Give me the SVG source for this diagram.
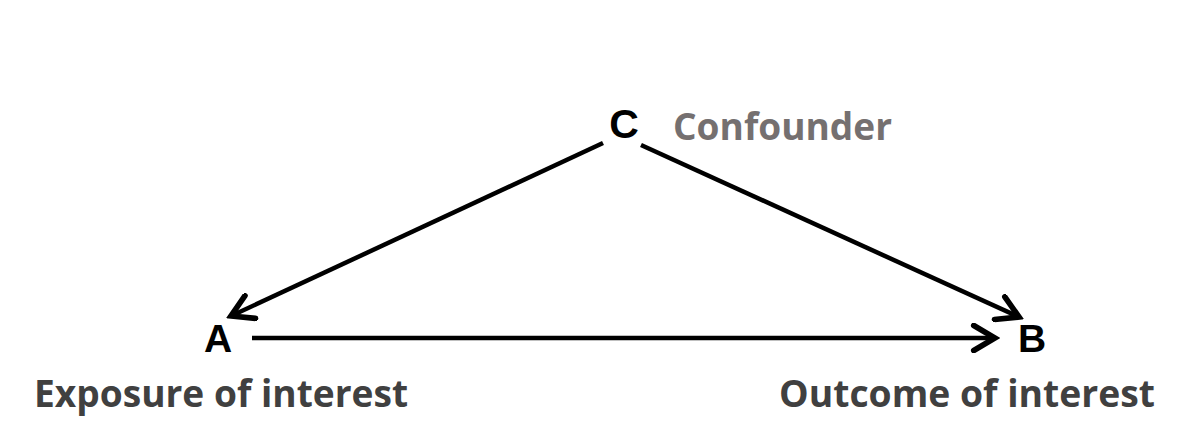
<svg xmlns="http://www.w3.org/2000/svg" width="1180" height="442" viewBox="0 0 1180 442">
<style>
.letter{font-family:"Liberation Sans",Arial,sans-serif;font-weight:bold;font-size:39px;fill:#000;text-anchor:middle}
.lab{font-family:"Open Sans","Noto Sans",sans-serif;font-weight:bold;font-size:37px}
.edge{stroke:#000;stroke-width:4.5;fill:none}
</style>
<defs>
<marker id="arr" markerUnits="userSpaceOnUse" markerWidth="30" markerHeight="30" viewBox="-20 -12 24 24" refX="0" refY="0" orient="auto">
<path d="M-17,-10 L0,0 L-17,10" fill="none" stroke="#000" stroke-width="4.5" stroke-linecap="round" stroke-linejoin="miter"/>
</marker>
</defs>
<rect width="1180" height="442" fill="#fff"/>
<g id="connectors">
<line class="edge" x1="603" y1="143" x2="231" y2="316" marker-end="url(#arr)"/>
<line class="edge" x1="641" y1="145" x2="1019" y2="317" marker-end="url(#arr)"/>
<line class="edge" x1="252" y1="338" x2="995" y2="338" marker-end="url(#arr)"/>
</g>
<g id="nodeC">
<text class="letter" x="624" y="138" style="font-size:41px">C</text>
<text class="lab" x="673" y="140" fill="#757070" textLength="219" lengthAdjust="spacingAndGlyphs">Confounder</text>
</g>
<g id="nodeA">
<text class="letter" x="218" y="352">A</text>
<text class="lab" x="34" y="407" fill="#404040" textLength="374" lengthAdjust="spacingAndGlyphs">Exposure of interest</text>
</g>
<g id="nodeB">
<text class="letter" x="1032" y="352">B</text>
<text class="lab" x="779" y="407" fill="#404040" textLength="376" lengthAdjust="spacingAndGlyphs">Outcome of interest</text>
</g>
</svg>
